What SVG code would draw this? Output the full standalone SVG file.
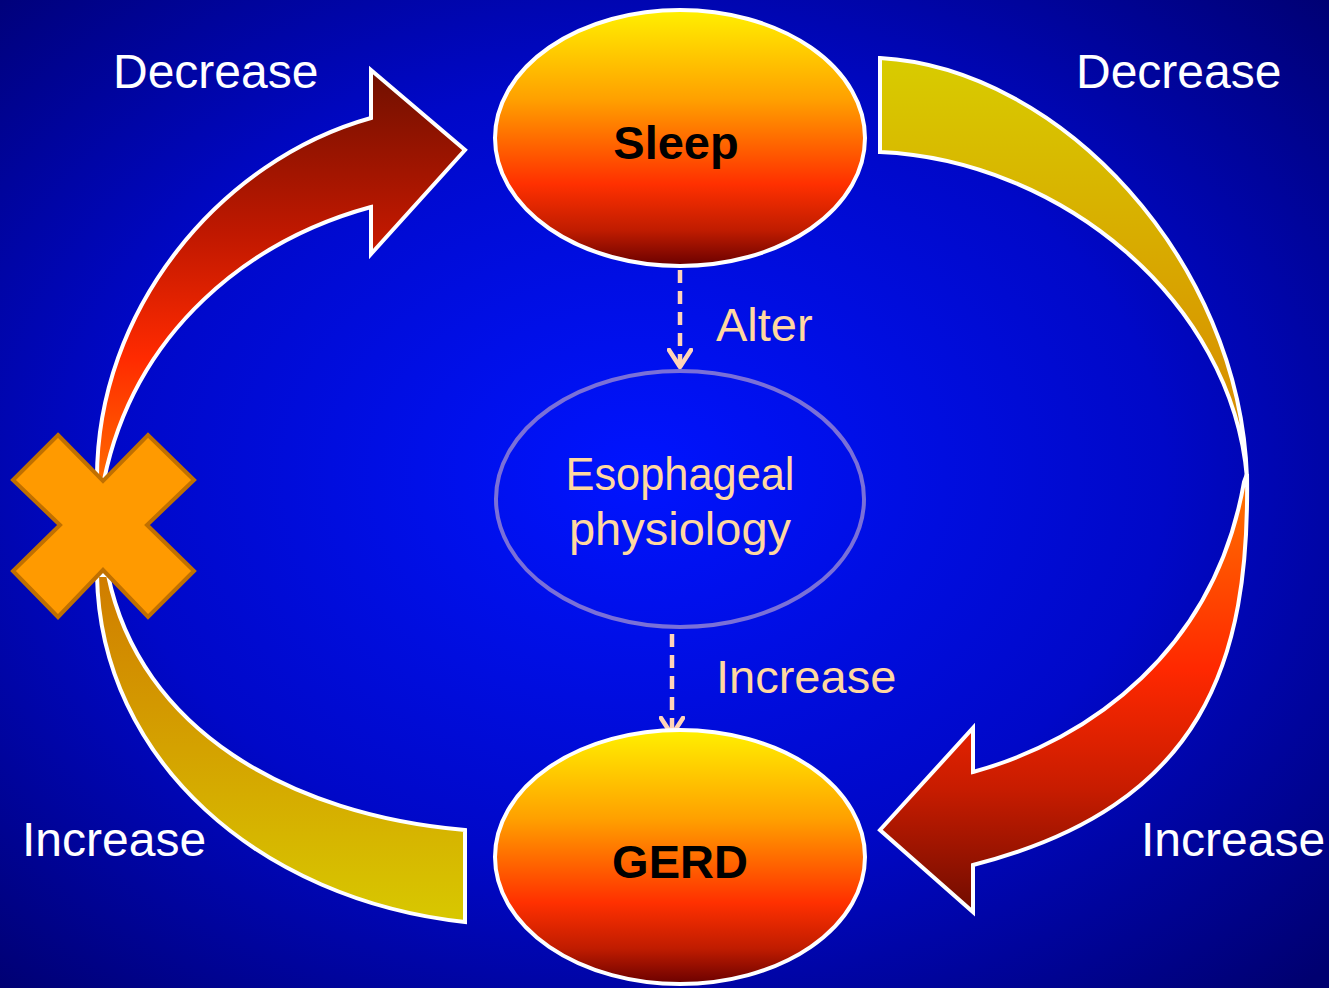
<svg xmlns="http://www.w3.org/2000/svg" width="1329" height="988" viewBox="0 0 1329 988">
<defs>
  <radialGradient id="bg" cx="48%" cy="48%" r="72%">
    <stop offset="0" stop-color="#0014ff"/>
    <stop offset="0.55" stop-color="#0008c8"/>
    <stop offset="1" stop-color="#000070"/>
  </radialGradient>
  <linearGradient id="ball" x1="0" y1="0" x2="0" y2="1">
    <stop offset="0" stop-color="#fff000"/>
    <stop offset="0.35" stop-color="#ffa000"/>
    <stop offset="0.68" stop-color="#ff3000"/>
    <stop offset="0.86" stop-color="#c01c00"/>
    <stop offset="1" stop-color="#6a0000"/>
  </linearGradient>
  <linearGradient id="gTL" gradientUnits="userSpaceOnUse" x1="0" y1="70" x2="0" y2="480">
    <stop offset="0" stop-color="#701000"/>
    <stop offset="0.4" stop-color="#c01800"/>
    <stop offset="0.7" stop-color="#ff2a00"/>
    <stop offset="1" stop-color="#ff6a00"/>
  </linearGradient>
  <linearGradient id="gTR" gradientUnits="userSpaceOnUse" x1="0" y1="58" x2="0" y2="480">
    <stop offset="0" stop-color="#d8cc00"/>
    <stop offset="1" stop-color="#d88200"/>
  </linearGradient>
  <linearGradient id="gBR" gradientUnits="userSpaceOnUse" x1="0" y1="470" x2="0" y2="912">
    <stop offset="0" stop-color="#ff7800"/>
    <stop offset="0.45" stop-color="#ff2800"/>
    <stop offset="0.72" stop-color="#c81c00"/>
    <stop offset="1" stop-color="#700c00"/>
  </linearGradient>
  <linearGradient id="gBL" gradientUnits="userSpaceOnUse" x1="0" y1="575" x2="0" y2="922">
    <stop offset="0" stop-color="#d07c00"/>
    <stop offset="1" stop-color="#d8c800"/>
  </linearGradient>
  <marker id="vhead" viewBox="0 0 22 26" refX="19" refY="13" markerWidth="22" markerHeight="26" markerUnits="userSpaceOnUse" orient="auto">
    <path d="M2,2 L19,13 L2,24" fill="none" stroke="#ffd4b8" stroke-width="4.5" stroke-linecap="round" stroke-linejoin="round"/>
  </marker>
  <style>
    .arrow { stroke: #ffffff; stroke-width: 4; stroke-linejoin: miter; }
    .ball { fill: url(#ball); stroke: #ffffff; stroke-width: 4; }
    .lbl { font-family: "Liberation Sans", Arial, sans-serif; font-size: 48px; fill: #ffffff; }
    .plbl { font-family: "Liberation Sans", Arial, sans-serif; font-size: 47px; fill: #ffd8a0; }
    .bold { font-family: "Liberation Sans", Arial, sans-serif; font-size: 47px; font-weight: bold; fill: #000000; }
    .dash { fill: none; stroke: #ffd4b8; stroke-width: 4.5; stroke-dasharray: 13 8; }
  </style>
</defs>
<rect x="0" y="0" width="1329" height="988" fill="url(#bg)"/>

<g id="connectors">
  <path id="arrow-tl" class="arrow" fill="url(#gTL)" d="M97,480 C96,310 220,160 371,118 L371,70 L465,150 L371,254 L371,207 C250,240 135,330 104,480 Z"/>
  <path id="arrow-tr" class="arrow" fill="url(#gTR)" d="M880,58 C1060,68 1240,260 1247,478 C1232,300 1060,160 880,152 Z"/>
  <path id="arrow-br" class="arrow" fill="url(#gBR)" d="M1247,474 C1250,660 1205,806 973,865 L973,912 L880,830 L973,728 L973,772 C1090,740 1215,650 1244,482 Z"/>
  <path id="arrow-bl" class="arrow" fill="url(#gBL)" d="M97,575 C100,760 260,900 465,922 L465,830 C290,815 140,730 108,575 Z"/>
  <line class="dash" x1="680" y1="270" x2="680" y2="367" marker-end="url(#vhead)"/>
  <line class="dash" x1="672" y1="634" x2="672" y2="735" marker-end="url(#vhead)"/>
</g>

<g id="blocked">
  <polygon points="58,435 103,481 148,435 194,480 147,525 194,571 148,617 103,570 58,617 13,571 60,525 13,480" fill="#ff9a00" stroke="#c07000" stroke-width="4" stroke-linejoin="miter"/>
</g>

<g id="sleep">
  <ellipse class="ball" cx="680" cy="138" rx="185" ry="128"/>
  <text class="bold" x="676" y="159" text-anchor="middle">Sleep</text>
</g>

<g id="esophageal">
  <ellipse cx="680" cy="499" rx="184" ry="128" fill="none" stroke="#7a70d8" stroke-width="4"/>
  <text class="plbl" x="680" y="490" text-anchor="middle" textLength="229" lengthAdjust="spacingAndGlyphs">Esophageal</text>
  <text class="plbl" x="680" y="545" text-anchor="middle">physiology</text>
</g>

<g id="gerd">
  <ellipse class="ball" cx="680" cy="857" rx="185" ry="127"/>
  <text class="bold" x="680" y="878" text-anchor="middle">GERD</text>
</g>

<g id="labels">
  <text class="lbl" x="113" y="88">Decrease</text>
  <text class="lbl" x="1076" y="88">Decrease</text>
  <text class="lbl" x="22" y="856">Increase</text>
  <text class="lbl" x="1141" y="856">Increase</text>
  <text class="plbl" x="716" y="341">Alter</text>
  <text class="plbl" x="716" y="693">Increase</text>
</g>
</svg>
